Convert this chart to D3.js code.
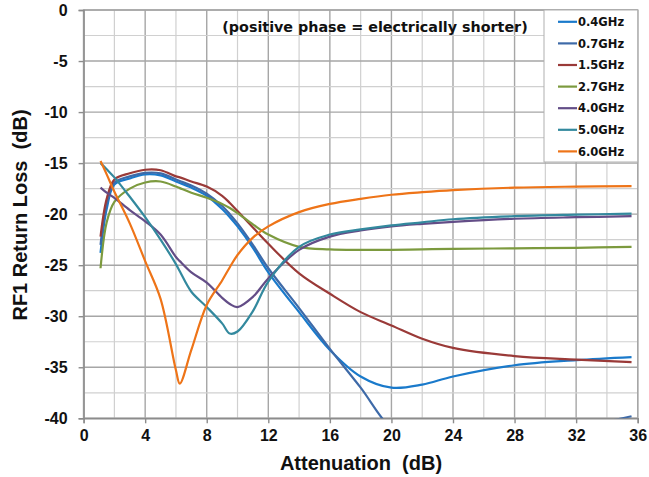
<!DOCTYPE html>
<html>
<head>
<meta charset="utf-8">
<script src="https://cdn.jsdelivr.net/npm/d3@7"></script>
<style>
  body { margin: 0; background: #fff; }
  svg { display: block; }
</style>
</head>
<body>
<svg id="chart" width="649" height="477"></svg>
<script>
// RF1 return loss vs attenuation, one curve per frequency.

var attenuation = [1.1, 1.5, 2, 3, 4, 5, 6, 6.25, 7, 8, 9, 9.5, 10, 11, 12, 14, 16, 18, 20, 22, 24, 28, 32, 35.6];

var rl04 = [-23.8, -19.5, -17.1, -16.5, -16.1, -16.2, -16.8, -16.95, -17.4, -18.2, -19.5, -20.3, -21.2, -23.3, -25.7, -29.6, -33.3, -35.9, -37.0, -36.7, -35.9, -34.8, -34.3, -34.0];
var rl07 = [-23.0, -19.0, -16.9, -16.3, -15.95, -16.0, -16.6, -16.75, -17.2, -18.0, -19.2, -20.0, -20.9, -23.0, -25.3, -29.2, -33.2, -37.0, -41.0, -42.5, -43.0, -42.5, -41.0, -39.8];
var rl15 = [-22.2, -18.5, -16.6, -16.0, -15.65, -15.7, -16.3, -16.4, -16.8, -17.3, -18.2, -18.9, -19.7, -21.3, -22.9, -25.8, -27.8, -29.6, -30.9, -32.2, -33.1, -33.9, -34.25, -34.5];
var rl27 = [-25.3, -20.8, -18.8, -17.5, -16.9, -16.8, -17.3, -17.45, -17.9, -18.4, -19.0, -19.4, -19.9, -21.0, -22.0, -23.2, -23.45, -23.5, -23.5, -23.45, -23.4, -23.35, -23.3, -23.2];
var rl40 = [-17.4, -17.9, -18.4, -19.6, -20.7, -22.0, -24.2, -24.6, -25.7, -26.7, -28.2, -28.8, -29.1, -28.1, -26.3, -23.5, -22.2, -21.6, -21.2, -20.95, -20.75, -20.45, -20.3, -20.2];
var rl50 = [-15.0, -15.6, -16.4, -18.3, -20.3, -22.5, -24.9, -25.6, -27.6, -29.1, -30.7, -31.7, -31.5, -29.5, -26.6, -23.2, -22.0, -21.5, -21.1, -20.8, -20.5, -20.2, -20.05, -19.95];
var rl60 = [-14.8, -16.1, -17.8, -20.9, -24.6, -28.3, -35.3, -36.6, -33.3, -28.9, -26.5, -25.2, -24.0, -22.3, -21.2, -19.8, -19.0, -18.5, -18.1, -17.85, -17.65, -17.4, -17.3, -17.25];

var seriesNames = ['0.4GHz', '0.7GHz', '1.5GHz', '2.7GHz', '4.0GHz', '5.0GHz', '6.0GHz'];
var seriesValues = [rl04, rl07, rl15, rl27, rl40, rl50, rl60];
var seriesColors = ['#1a7acb', '#3e6aa8', '#9a3a38', '#7c9a3e', '#634d87', '#33899e', '#ee7418'];

var xTicks = [0, 4, 8, 12, 16, 20, 24, 28, 32, 36];
var yTicks = [0, -5, -10, -15, -20, -25, -30, -35, -40];

var note = '(positive phase = electrically shorter)';

var svg = d3.select('#chart');
var plot = { left: 83.6, right: 637.7, top: 10, bottom: 418.3 };

var x = d3.scaleLinear().domain([0, 36]).range([plot.left, plot.right]);
var y = d3.scaleLinear().domain([-40, 0]).range([plot.bottom, plot.top]);

// grid: minor every 2 / 2.5, major every 4 / 5
var grid = svg.append('g');
grid.selectAll('.vx')
    .data(d3.range(0, 36.01, 2))
    .enter().append('line')
    .attr('x1', function(d) { return x(d); })
    .attr('x2', function(d) { return x(d); })
    .attr('y1', plot.top)
    .attr('y2', plot.bottom)
    .attr('stroke', function(d) { return d % 4 === 0 ? '#a6a6a6' : '#d0d0d0'; })
    .attr('stroke-width', function(d) { return d % 4 === 0 ? 1.4 : 1.2; });
grid.selectAll('.hy')
    .data(d3.range(-40, 0.01, 2.5))
    .enter().append('line')
    .attr('x1', plot.left)
    .attr('x2', plot.right)
    .attr('y1', function(d) { return y(d); })
    .attr('y2', function(d) { return y(d); })
    .attr('stroke', function(d) { return d % 5 === 0 ? '#a6a6a6' : '#d0d0d0'; })
    .attr('stroke-width', function(d) { return d % 5 === 0 ? 1.4 : 1.2; });

svg.append('rect')
    .attr('x', plot.left).attr('y', plot.top)
    .attr('width', plot.right - plot.left).attr('height', plot.bottom - plot.top)
    .attr('fill', 'none').attr('stroke', '#a6a6a6').attr('stroke-width', 1.4);

// axes (plain hyphen for negatives, as in the original)
var fmt = function(d) { return String(d); };
var xAxis = d3.axisBottom(x).tickValues(xTicks).tickSize(5).tickPadding(6).tickFormat(fmt);
var yAxis = d3.axisLeft(y).tickValues(yTicks).tickSize(5).tickPadding(11).tickFormat(fmt);

function styleAxis(g) {
    g.select('.domain').attr('stroke', '#8c8c8c').attr('stroke-width', 1.4);
    g.selectAll('.tick line').attr('stroke', '#8c8c8c').attr('stroke-width', 1.4);
    g.selectAll('text')
        .attr('font-family', 'Liberation Sans, Arial, sans-serif')
        .attr('font-weight', 'bold').attr('font-size', 16).attr('fill', '#111');
}

svg.append('g')
    .attr('transform', 'translate(0,' + plot.bottom + ')')
    .call(xAxis)
    .call(styleAxis);

svg.append('g')
    .attr('transform', 'translate(' + plot.left + ',0)')
    .call(yAxis)
    .call(styleAxis);

// axis titles
svg.append('text')
    .attr('x', 361).attr('y', 470)
    .attr('text-anchor', 'middle')
    .attr('font-family', 'Liberation Sans, Arial, sans-serif')
    .attr('font-weight', 'bold').attr('font-size', 20).attr('fill', '#111')
    .style('white-space', 'pre')
    .text('Attenuation  (dB)');

svg.append('text')
    .attr('transform', 'translate(27,215) rotate(-90)')
    .attr('text-anchor', 'middle')
    .attr('font-family', 'Liberation Sans, Arial, sans-serif')
    .attr('font-weight', 'bold').attr('font-size', 20).attr('fill', '#111')
    .style('white-space', 'pre')
    .text('RF1 Return Loss  (dB)');

// curves
svg.append('clipPath').attr('id', 'clip')
    .append('rect')
    .attr('x', plot.left).attr('y', plot.top)
    .attr('width', plot.right - plot.left).attr('height', plot.bottom - plot.top);

var line = d3.line()
    .x(function(d) { return x(d[0]); })
    .y(function(d) { return y(d[1]); })
    .curve(d3.curveCatmullRom.alpha(0.5));

svg.append('g')
    .attr('clip-path', 'url(#clip)')
    .selectAll('path')
    .data(seriesValues)
    .enter().append('path')
    .attr('d', function(vals) {
        return line(attenuation.map(function(a, i) { return [a, vals[i]]; }));
    })
    .attr('fill', 'none')
    .attr('stroke', function(d, i) { return seriesColors[i]; })
    .attr('stroke-width', 2.2)
    .attr('stroke-linejoin', 'round');

// note
svg.append('text')
    .attr('x', 375).attr('y', 32)
    .attr('text-anchor', 'middle')
    .attr('font-family', 'DejaVu Sans, Verdana, sans-serif')
    .attr('font-weight', 'bold').attr('font-size', 14.3).attr('fill', '#111')
    .text(note);

// legend
var legend = svg.append('g');
legend.append('rect')
    .attr('x', 544).attr('y', plot.top)
    .attr('width', plot.right - 544).attr('height', 152)
    .attr('fill', '#fff').attr('stroke', '#b0b0b0').attr('stroke-width', 1);

var item = legend.selectAll('.item')
    .data(seriesNames)
    .enter().append('g')
    .attr('transform', function(d, i) { return 'translate(558,' + (21.8 + i * 21.6) + ')'; });
item.append('line')
    .attr('x1', 0).attr('x2', 19)
    .attr('stroke', function(d, i) { return seriesColors[i]; })
    .attr('stroke-width', 2.2);
item.append('text')
    .attr('x', 20).attr('dy', '0.36em')
    .attr('font-family', 'DejaVu Sans, Verdana, sans-serif')
    .attr('font-weight', 'bold').attr('font-size', 11.5).attr('fill', '#111')
    .text(function(d) { return d; });
</script>
</body>
</html>
